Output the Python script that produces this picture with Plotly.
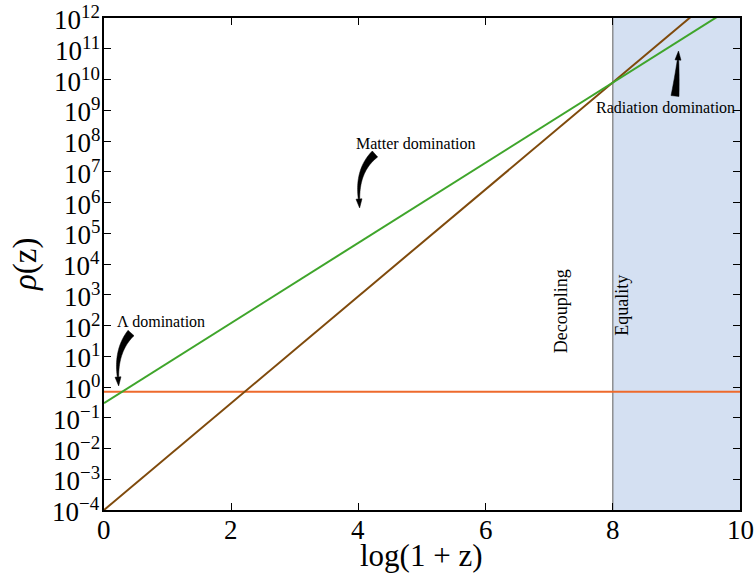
import numpy as np
import plotly.graph_objects as go

# Energy density of each component versus log(1+z)
x_nodes = [0, 2, 4, 6, 8, 10]
rho_matter = [0.30, 1.2e2, 4.9e4, 2.0e7, 8.0e9, 3.2e12]
rho_radiation = [1.0e-4, 0.30, 8.9e2, 2.6e6, 7.9e9, 2.4e13]
rho_lambda = [0.7, 0.7, 0.7, 0.7, 0.7, 0.7]

x_ticks = [0, 2, 4, 6, 8, 10]
x_tick_text = ["0", "2", "4", "6", "8", "10"]
decades = list(range(-4, 13))
y_tick_text = ["10<sup>" + str(k).replace("-", "\u2212") + "</sup>" for k in decades]

W, H = 755, 576
ML, MR, MT, MB = 104, 15, 18, 66
PW, PH = W - ML - MR, H - MT - MB

SERIF = "Liberation Serif"

fig = go.Figure()
fig.add_trace(go.Scatter(x=x_nodes, y=rho_lambda, mode="lines",
                         line=dict(color="#ee6a2c", width=2), showlegend=False))
fig.add_trace(go.Scatter(x=x_nodes, y=rho_radiation, mode="lines",
                         line=dict(color="#7f4a0c", width=2), showlegend=False))
fig.add_trace(go.Scatter(x=x_nodes, y=rho_matter, mode="lines",
                         line=dict(color="#3fa52b", width=2), showlegend=False))


def to_paper(px, py):
    return (px - ML) / PW, (H - MB - py) / PH


def curved_arrow(p0, p1, p2, w0, w1, head_w, head_l):
    """Tapered quadratic-Bezier arrow in pixel space, returned as an SVG path in paper units."""
    p0, p1, p2 = map(np.array, (p0, p1, p2))
    ts = np.linspace(0, 1, 30)
    left, right = [], []
    for t in ts:
        pt = (1 - t) ** 2 * p0 + 2 * (1 - t) * t * p1 + t ** 2 * p2
        d = 2 * (1 - t) * (p1 - p0) + 2 * t * (p2 - p1)
        d = d / np.linalg.norm(d)
        n = np.array([-d[1], d[0]])
        w = (w0 + (w1 - w0) * t) / 2
        left.append(pt + n * w)
        right.append(pt - n * w)
    d_end = p2 - p1
    d_end = d_end / np.linalg.norm(d_end)
    n_end = np.array([-d_end[1], d_end[0]])
    tip = p2 + d_end * head_l
    hl = p2 + n_end * head_w / 2
    hr = p2 - n_end * head_w / 2
    pts = left + [hl, tip, hr] + right[::-1]
    segs = []
    for i, p in enumerate(pts):
        u, v = to_paper(p[0], p[1])
        segs.append(("M" if i == 0 else "L") + f"{u:.5f},{v:.5f}")
    return " ".join(segs) + " Z"


shapes = [
    dict(type="rect", xref="x", yref="paper", x0=8, x1=10, y0=0, y1=1,
         fillcolor="#d4e0f2", line=dict(width=0), layer="below"),
    dict(type="line", xref="x", yref="paper", x0=8, x1=8, y0=0, y1=1,
         line=dict(color="#777777", width=1.2), layer="below"),
]
arrow_style = dict(type="path", xref="paper", yref="paper",
                   fillcolor="black", line=dict(color="black", width=0.5))
shapes.append(dict(path=curved_arrow((131, 333), (116, 350), (118, 377), 8, 1.5, 6, 9), **arrow_style))
shapes.append(dict(path=curved_arrow((375, 154), (357, 170), (359, 199), 8, 1.5, 6, 9), **arrow_style))
shapes.append(dict(path=curved_arrow((675, 96), (677, 78), (678, 60), 8, 1.5, 6, 9), **arrow_style))


def label(text, px, py, size=16, angle=0):
    u, v = to_paper(px, py)
    return dict(text=text, x=u, y=v, xref="paper", yref="paper", showarrow=False,
                xanchor="center", yanchor="middle", textangle=angle,
                font=dict(family=SERIF, size=size, color="black"))


annotations = [
    label("\u039b domination", 161, 321),
    label("Matter domination", 416, 143),
    label("Radiation domination", 665, 107),
    dict(text="Decoupling", x=7.19, y=to_paper(0, 311)[1], xref="x", yref="paper",
         xanchor="center", yanchor="middle",
         showarrow=False, textangle=-90, font=dict(family=SERIF, size=18, color="black")),
    dict(text="Equality", x=8.14, y=to_paper(0, 305)[1], xref="x", yref="paper",
         xanchor="center", yanchor="middle",
         showarrow=False, textangle=-90, font=dict(family=SERIF, size=18, color="black")),
    # axis titles
    label("log(1 + z)", 421, 555, size=31),
    label("<i>\u03c1</i>(z)", 25, 265, size=33, angle=-90),
]

tick_font = dict(family=SERIF, size=27, color="black")
# tick labels placed on the axes' own coordinates
for xv, txt in zip(x_ticks, x_tick_text):
    annotations.append(dict(text=txt, x=xv, xref="x", y=to_paper(0, 530)[1], yref="paper",
                            xanchor="center", yanchor="middle", showarrow=False,
                            borderpad=0, font=tick_font))
for k, txt in zip(decades, y_tick_text):
    annotations.append(dict(text=txt, x=to_paper(101, 0)[0], xref="paper", y=k, yref="y",
                            xanchor="right", yanchor="middle", showarrow=False,
                            borderpad=0, font=tick_font))

fig.update_layout(
    width=W, height=H,
    margin=dict(l=ML, r=MR, t=MT, b=MB),
    paper_bgcolor="white", plot_bgcolor="white",
    font=dict(family=SERIF, color="black"),
    shapes=shapes, annotations=annotations,
)
axis_common = dict(showline=True, linecolor="black", linewidth=1.5, mirror="ticks",
                   ticks="inside", ticklen=7, tickwidth=1, tickcolor="black",
                   showgrid=False, zeroline=False, automargin=False, showticklabels=False)
fig.update_xaxes(range=[0, 10], tickmode="array", tickvals=x_ticks, **axis_common)
fig.update_yaxes(type="log", range=[-4, 12], tickmode="array",
                 tickvals=[10.0 ** k for k in decades], **axis_common)

fig.write_html("out.html")
